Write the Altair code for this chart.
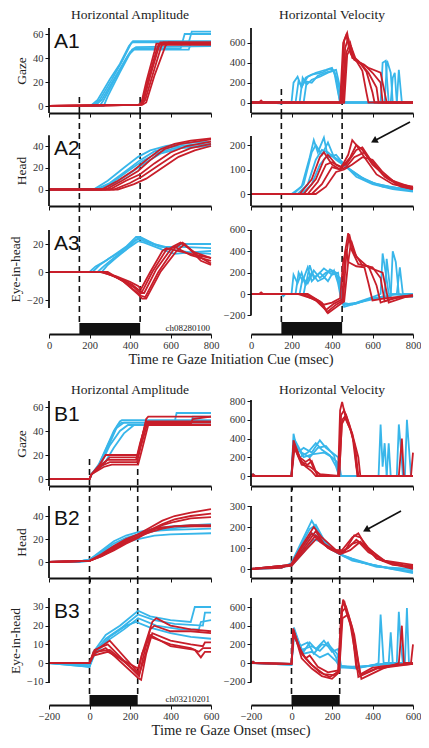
import altair as alt
import pandas as pd

BLUE = "#38B6EA"
RED = "#C81E2A"
SERIF = "Liberation Serif"
SANS = "Liberation Sans"

# ---------------- Section A: time re gaze initiation cue (0..800 ms) ----------------
A_TICKS_X = [0, 200, 400, 600, 800]
A_CUE = [150, 450]

A1_AMP_BLUE = [
    [[0, 0], [205, 0], [240, 5], [300, 22], [350, 35], [395, 50], [410, 53], [690, 53], [705, 62], [800, 62]],
    [[0, 0], [215, 0], [250, 5], [310, 22], [360, 37], [405, 52], [415, 54], [800, 54]],
    [[0, 0], [225, 0], [260, 5], [330, 25], [390, 42], [420, 47], [690, 47], [700, 52], [800, 52]],
    [[0, 0], [250, 0], [270, 5], [340, 27], [400, 45], [425, 48], [650, 48], [670, 60], [800, 60]],
    [[0, 0], [270, 0], [290, 8], [350, 28], [410, 47], [430, 49], [800, 50]],
]
A1_AMP_RED = [
    [[0, 0], [440, 1], [455, 2], [480, 20], [520, 45], [530, 52], [800, 52]],
    [[0, 0], [445, 1], [460, 3], [490, 22], [530, 46], [540, 51], [800, 51]],
    [[0, 0], [450, 1], [465, 3], [500, 25], [540, 48], [550, 53], [800, 53]],
    [[0, 0], [455, 1], [475, 5], [510, 25], [555, 50], [565, 53], [800, 52]],
    [[0, 0], [460, 1], [480, 3], [520, 25], [575, 50], [590, 53], [800, 53]],
]
A2_AMP_BLUE = [
    [[0, 0], [230, 0], [300, 6], [380, 17], [450, 27], [520, 35], [600, 39], [700, 41], [800, 42]],
    [[0, 0], [220, 0], [290, 8], [370, 20], [440, 30], [500, 36], [580, 40], [700, 43], [800, 44]],
    [[0, 0], [240, 0], [310, 6], [390, 17], [460, 26], [540, 34], [620, 38], [800, 41]],
    [[0, 0], [250, 0], [320, 5], [400, 15], [470, 24], [550, 33], [650, 38], [800, 40]],
]
A2_AMP_RED = [
    [[0, 0], [260, 0], [340, 8], [420, 18], [480, 27], [550, 37], [620, 42], [700, 45], [800, 47]],
    [[0, 0], [280, 0], [360, 8], [440, 17], [500, 27], [570, 37], [650, 42], [800, 46]],
    [[0, 0], [300, 0], [380, 8], [450, 14], [520, 24], [600, 34], [680, 40], [800, 44]],
    [[0, 0], [320, 0], [400, 6], [460, 12], [540, 22], [620, 32], [700, 38], [800, 42]],
    [[0, 0], [340, 0], [420, 5], [480, 10], [560, 20], [640, 30], [720, 36], [800, 40]],
]
A3_AMP_BLUE = [
    [[0, 0], [200, 0], [230, 4], [280, 8], [320, 12], [380, 18], [430, 25], [450, 25], [520, 20], [600, 16], [700, 14], [800, 13]],
    [[0, 0], [215, 0], [250, 5], [300, 10], [350, 14], [400, 20], [440, 24], [470, 22], [550, 18], [650, 18], [800, 17]],
    [[0, 0], [240, 0], [270, 4], [320, 10], [380, 16], [430, 23], [455, 24], [520, 20], [600, 17], [660, 20], [800, 20]],
    [[0, 0], [260, 0], [290, 5], [330, 10], [390, 17], [440, 22], [470, 21], [560, 16], [620, 13], [700, 14], [800, 15]],
]
A3_AMP_RED = [
    [[0, 0], [250, 0], [330, -3], [400, -7], [440, -10], [455, -12], [500, 0], [560, 15], [580, 17], [700, 13], [800, 10]],
    [[0, 0], [260, 0], [340, -4], [410, -9], [445, -13], [460, -14], [510, 0], [580, 16], [620, 18], [700, 12], [800, 8]],
    [[0, 0], [270, 0], [350, -5], [420, -11], [450, -15], [470, -15], [530, 2], [610, 18], [650, 21], [720, 14], [800, 10]],
    [[0, 0], [280, 0], [360, -6], [430, -14], [455, -17], [475, -18], [540, 0], [620, 17], [660, 21], [740, 11], [800, 6]],
    [[0, 0], [290, 0], [370, -7], [440, -16], [460, -19], [480, -19], [550, 0], [630, 15], [670, 20], [750, 8], [800, 5]],
]
A1_VEL_BLUE = [
    [[0, 0], [100, 0], [150, -10], [160, 0], [200, 0], [210, 200], [230, 260], [250, 150], [270, 250], [300, 280], [350, 300], [390, 340], [410, 320], [430, 100], [440, 0], [640, 0], [650, 400], [665, 420], [680, 0], [800, 0]],
    [[0, 0], [220, 0], [235, 220], [250, 160], [280, 260], [320, 300], [370, 330], [400, 350], [420, 250], [440, 0], [690, 0], [700, 250], [710, 300], [720, 0], [800, 0]],
    [[0, 0], [240, 0], [255, 250], [275, 180], [300, 230], [340, 260], [380, 300], [410, 320], [430, 200], [450, 0], [660, 0], [672, 420], [690, 300], [700, 0], [800, 0]],
    [[0, 0], [260, 0], [275, 210], [300, 200], [330, 270], [380, 310], [420, 330], [440, 150], [455, 0], [720, 0], [730, 330], [745, 0], [800, 0]],
]
A1_VEL_RED = [
    [[0, 0], [40, 0], [50, 20], [60, 0], [440, 0], [455, 600], [470, 680], [490, 500], [520, 420], [550, 320], [570, 100], [580, 0], [800, 0]],
    [[0, 0], [445, 0], [460, 620], [475, 700], [495, 480], [530, 420], [570, 310], [600, 100], [610, 0], [800, 0]],
    [[0, 0], [450, 0], [465, 550], [480, 650], [500, 450], [540, 400], [580, 300], [620, 150], [630, 0], [800, 0]],
    [[0, 0], [455, 0], [470, 500], [490, 600], [510, 430], [560, 380], [600, 300], [640, 200], [650, 0], [800, 0]],
    [[0, 0], [460, 0], [475, 480], [495, 560], [520, 420], [580, 350], [640, 300], [660, 100], [670, 0], [800, 0]],
]
A2_VEL_BLUE = [
    [[0, 0], [200, 0], [250, 30], [290, 150], [310, 220], [330, 170], [360, 230], [380, 150], [420, 160], [460, 120], [520, 70], [600, 40], [700, 20], [800, 10]],
    [[0, 0], [210, 0], [260, 40], [300, 170], [320, 200], [350, 160], [380, 210], [410, 150], [450, 130], [500, 90], [580, 50], [680, 30], [800, 15]],
    [[0, 0], [230, 0], [280, 40], [320, 140], [350, 180], [380, 170], [420, 140], [470, 110], [540, 70], [620, 40], [720, 25], [800, 20]],
    [[0, 0], [250, 0], [300, 40], [340, 120], [370, 150], [400, 160], [440, 130], [490, 100], [560, 60], [650, 30], [800, 15]],
]
A2_VEL_RED = [
    [[0, 0], [240, 0], [300, 60], [340, 150], [360, 170], [400, 120], [440, 100], [480, 160], [500, 220], [520, 200], [560, 150], [620, 80], [700, 40], [800, 20]],
    [[0, 0], [260, 0], [320, 60], [360, 140], [380, 160], [420, 120], [450, 110], [490, 150], [520, 200], [550, 180], [600, 120], [680, 60], [800, 25]],
    [[0, 0], [280, 0], [330, 50], [370, 120], [400, 130], [440, 110], [470, 120], [520, 180], [550, 190], [590, 140], [650, 80], [730, 40], [800, 30]],
    [[0, 0], [300, 0], [350, 40], [400, 110], [440, 100], [470, 110], [510, 150], [560, 170], [600, 130], [660, 70], [740, 30], [800, 20]],
    [[0, 0], [320, 0], [370, 30], [420, 90], [460, 100], [500, 120], [550, 150], [600, 140], [650, 90], [720, 40], [800, 25]],
]
A3_VEL_BLUE = [
    [[0, 0], [150, 0], [160, -20], [170, 0], [200, 0], [210, 180], [230, 100], [250, 200], [270, 80], [290, 270], [310, 150], [340, 200], [380, 120], [410, 220], [430, 100], [445, -50], [460, -100], [520, -80], [600, -30], [640, 0], [650, 380], [665, 200], [680, 0], [800, -20]],
    [[0, 0], [220, 0], [235, 200], [255, 120], [280, 250], [300, 120], [330, 180], [360, 240], [400, 180], [430, 200], [450, -80], [500, -100], [580, -50], [690, -20], [700, 400], [715, 300], [730, 0], [800, -30]],
    [[0, 0], [240, 0], [255, 150], [280, 100], [310, 220], [340, 150], [370, 200], [400, 210], [440, 150], [455, -100], [520, -90], [600, -40], [660, -20], [670, 330], [690, 0], [800, -10]],
    [[0, 0], [260, 0], [270, 100], [300, 200], [330, 120], [360, 150], [390, 230], [420, 200], [445, 0], [460, -120], [530, -80], [620, -40], [720, 0], [735, 250], [750, 0], [800, 0]],
]
A3_VEL_RED = [
    [[0, 0], [40, 0], [50, 15], [60, 0], [230, 0], [300, -40], [360, -100], [400, -80], [440, -40], [455, 300], [470, 420], [480, 300], [520, 260], [560, 250], [580, 100], [600, -60], [660, -40], [800, -10]],
    [[0, 0], [250, 0], [320, -60], [370, -150], [410, -90], [450, -50], [465, 400], [480, 570], [495, 420], [530, 280], [580, 260], [620, 80], [640, -80], [700, -40], [800, -20]],
    [[0, 0], [270, 0], [340, -70], [375, -170], [420, -100], [455, -60], [470, 350], [485, 560], [505, 400], [550, 270], [600, 250], [640, 150], [660, -70], [730, -30], [800, -10]],
    [[0, 0], [280, 0], [350, -80], [380, -180], [430, -110], [460, -70], [480, 300], [495, 500], [520, 350], [580, 250], [650, 200], [680, -80], [760, -30], [800, -20]],
]

# ---------------- Section B: time re gaze onset (-200..600 ms) ----------------
B_TICKS_X = [-200, 0, 200, 400, 600]
B_CUE = [0, 238]

B1_AMP_BLUE = [
    [[-200, 0], [0, 0], [10, 4], [40, 10], [80, 25], [120, 40], [150, 48], [160, 49], [600, 49]],
    [[-200, 0], [0, 0], [10, 4], [50, 13], [90, 28], [130, 42], [170, 47], [420, 47], [430, 55], [600, 55]],
    [[-200, 0], [0, 0], [10, 4], [60, 14], [100, 28], [150, 40], [190, 45], [600, 45]],
    [[-200, 0], [0, 0], [10, 4], [70, 12], [120, 26], [170, 38], [220, 45], [500, 45], [510, 52], [600, 52]],
    [[-200, 0], [0, 0], [12, 4], [50, 12], [100, 30], [140, 45], [160, 47], [600, 47]],
]
B1_AMP_RED = [
    [[-200, 0], [0, 0], [10, 4], [50, 12], [80, 20], [240, 20], [260, 35], [280, 50], [290, 52], [600, 52]],
    [[-200, 0], [0, 0], [10, 4], [50, 11], [90, 16], [230, 16], [250, 30], [280, 47], [600, 47]],
    [[-200, 0], [0, 0], [10, 4], [60, 11], [100, 14], [235, 14], [255, 28], [285, 46], [500, 46], [510, 50], [600, 52]],
    [[-200, 0], [0, 0], [10, 4], [70, 10], [110, 12], [240, 12], [260, 25], [290, 45], [600, 45]],
    [[-200, 0], [0, 0], [10, 4], [50, 10], [100, 18], [235, 18], [255, 32], [280, 48], [600, 48]],
]
B2_AMP_BLUE = [
    [[-200, 0], [-50, 0.5], [0, 2], [60, 8], [120, 14], [180, 19], [240, 23], [320, 27], [400, 29], [500, 31], [600, 32]],
    [[-200, 0], [-50, 0.5], [0, 2], [60, 9], [120, 16], [180, 21], [240, 24], [320, 27], [400, 28], [600, 29]],
    [[-200, 0], [-50, 0], [0, 1], [60, 6], [120, 12], [180, 17], [240, 20], [320, 23], [400, 24], [600, 25]],
    [[-200, 0], [-50, 0.5], [0, 2], [60, 10], [120, 18], [180, 23], [240, 26], [320, 29], [400, 31], [600, 33]],
]
B2_AMP_RED = [
    [[-200, 0], [0, 1], [60, 6], [120, 13], [180, 19], [240, 24], [300, 30], [360, 36], [420, 40], [500, 43], [600, 46]],
    [[-200, 0], [0, 1], [60, 5], [120, 11], [180, 17], [240, 22], [300, 28], [360, 33], [420, 37], [500, 40], [600, 42]],
    [[-200, 0], [0, 1], [60, 6], [120, 12], [180, 18], [240, 22], [300, 26], [360, 29], [420, 31], [500, 32], [600, 32]],
    [[-200, 0], [0, 1], [60, 5], [120, 10], [180, 16], [240, 21], [300, 27], [360, 32], [420, 35], [500, 38], [600, 39]],
    [[-200, 0], [0, 1], [60, 7], [120, 14], [180, 20], [240, 24], [300, 28], [360, 30], [420, 31], [600, 31]],
]
B3_AMP_BLUE = [
    [[-200, 0], [-100, -0.5], [0, -2], [20, 6], [80, 15], [150, 20], [240, 28], [300, 25], [400, 23], [500, 22], [520, 30], [600, 30]],
    [[-200, 0], [0, -2], [20, 5], [80, 13], [160, 19], [240, 26], [320, 23], [420, 21], [560, 20], [570, 27], [600, 27]],
    [[-200, 0], [0, -1], [20, 4], [90, 12], [170, 18], [240, 24], [330, 20], [450, 18], [540, 18], [550, 22], [600, 23]],
    [[-200, 0], [0, -2], [30, 6], [100, 14], [180, 20], [230, 22], [300, 19], [400, 16], [500, 14], [600, 13]],
]
B3_AMP_RED = [
    [[-200, 0], [0, 0], [20, 6], [100, 12], [240, -5], [260, 5], [310, 22], [330, 24], [400, 20], [500, 18], [600, 17]],
    [[-200, 0], [0, 0], [25, 7], [90, 10], [245, -7], [265, 3], [300, 18], [320, 20], [400, 17], [500, 17], [600, 16]],
    [[-200, 0], [0, 0], [20, 5], [80, 8], [240, -8], [255, -9], [280, 5], [310, 16], [400, 12], [500, 10], [560, 9], [570, 11], [600, 11]],
    [[-200, 0], [0, 0], [30, 6], [100, 7], [245, -6], [270, 2], [300, 14], [400, 10], [500, 8], [540, 6], [560, 8], [600, 8]],
    [[-200, 0], [0, 0], [20, 4], [90, 6], [240, -3], [260, 5], [300, 15], [400, 9], [520, 7], [550, 3], [570, 6], [600, 6]],
]
B1_VEL_BLUE = [
    [[-200, 0], [-190, 20], [-180, 0], [0, 0], [10, 450], [30, 250], [60, 300], [100, 250], [140, 380], [170, 300], [200, 250], [230, 200], [245, 0], [430, 0], [440, 550], [450, 100], [460, 350], [470, 0], [600, 0]],
    [[-200, 0], [0, 0], [10, 380], [40, 200], [80, 250], [120, 350], [150, 280], [190, 220], [220, 100], [235, 0], [520, 0], [530, 550], [540, 300], [550, 0], [600, 0]],
    [[-200, 0], [0, 0], [12, 400], [50, 250], [90, 200], [130, 300], [170, 320], [210, 220], [230, 50], [240, 0], [560, 0], [570, 600], [580, 300], [590, 0], [600, 0]],
    [[-200, 0], [0, 0], [15, 350], [60, 200], [100, 230], [160, 250], [200, 200], [225, 150], [235, 0], [470, 0], [480, 350], [490, 0], [600, 0]],
]
B1_VEL_RED = [
    [[-200, 0], [-190, 20], [-180, 0], [0, 0], [10, 380], [40, 200], [70, 150], [90, 180], [110, 80], [130, 0], [230, 0], [240, 700], [250, 790], [270, 600], [300, 450], [320, 100], [330, 0], [600, 0]],
    [[-200, 0], [0, 0], [12, 350], [50, 150], [80, 120], [100, 160], [120, 50], [150, 0], [232, 0], [245, 650], [260, 700], [285, 550], [310, 350], [325, 0], [600, 0]],
    [[-200, 0], [0, 0], [15, 300], [50, 120], [90, 100], [140, 20], [235, 0], [250, 600], [270, 650], [300, 450], [330, 200], [340, 0], [530, 0], [545, 400], [555, 0], [590, 0], [600, 250]],
    [[-200, 0], [0, 0], [10, 330], [40, 180], [70, 100], [100, 50], [120, 0], [236, 0], [248, 550], [265, 620], [290, 500], [315, 300], [330, 0], [600, 0]],
]
B2_VEL_BLUE = [
    [[-200, 0], [-50, 5], [0, 30], [50, 130], [100, 230], [130, 180], [180, 110], [240, 70], [300, 50], [400, 20], [500, 0], [600, -10]],
    [[-200, 0], [-50, 5], [0, 25], [50, 120], [90, 190], [120, 210], [160, 140], [220, 80], [300, 40], [400, 20], [500, 0], [600, -20]],
    [[-200, 0], [0, 20], [60, 110], [100, 170], [140, 150], [190, 100], [240, 70], [320, 40], [420, 10], [600, 0]],
    [[-200, 0], [0, 15], [60, 80], [110, 140], [150, 130], [200, 90], [260, 60], [350, 30], [450, 10], [600, -15]],
]
B2_VEL_RED = [
    [[-200, 0], [-50, 5], [0, 25], [50, 110], [110, 200], [150, 150], [220, 90], [250, 90], [300, 150], [330, 170], [360, 120], [420, 50], [500, 20], [600, 10]],
    [[-200, 0], [0, 20], [60, 100], [120, 180], [160, 120], [230, 80], [260, 80], [310, 160], [340, 150], [380, 100], [450, 40], [550, 20], [600, 15]],
    [[-200, 0], [0, 20], [60, 90], [120, 160], [170, 110], [240, 80], [280, 100], [320, 140], [360, 110], [420, 50], [520, 20], [600, 0]],
    [[-200, 0], [0, 15], [70, 90], [130, 150], [180, 100], [240, 70], [290, 90], [340, 130], [390, 90], [460, 40], [600, 20]],
    [[-200, 0], [0, 20], [50, 100], [100, 170], [140, 130], [200, 90], [260, 85], [300, 120], [330, 130], [380, 80], [480, 30], [600, 5]],
]
B3_VEL_BLUE = [
    [[-200, 0], [-190, 15], [-180, 0], [0, -20], [8, 350], [30, 200], [60, 120], [90, 220], [120, 150], [160, 240], [200, 120], [230, 150], [245, -30], [300, -50], [400, -30], [430, 0], [440, 520], [455, 0], [600, 0]],
    [[-200, 0], [0, -10], [10, 300], [40, 180], [80, 220], [110, 100], [150, 200], [190, 180], [225, 100], [240, -40], [320, -60], [400, -20], [520, 0], [530, 550], [540, 200], [550, 0], [600, 0]],
    [[-200, 0], [0, -20], [12, 380], [50, 140], [100, 180], [140, 130], [180, 220], [220, 60], [235, -30], [300, -40], [380, -30], [560, 0], [570, 590], [580, 0], [600, 0]],
    [[-200, 0], [0, -10], [15, 330], [60, 100], [100, 120], [140, 60], [180, 100], [220, 20], [240, -50], [320, -50], [420, -20], [480, 0], [490, 330], [500, 0], [600, 0]],
]
B3_VEL_RED = [
    [[-200, 0], [-190, 15], [-180, 0], [0, -10], [8, 370], [40, 150], [70, 50], [90, 80], [130, -40], [180, -100], [230, -80], [245, 500], [255, 680], [270, 550], [300, 350], [320, -50], [340, -120], [400, -50], [600, 0]],
    [[-200, 0], [0, -10], [10, 350], [50, 100], [90, 0], [140, -100], [190, -150], [232, -90], [248, 600], [262, 650], [290, 420], [315, 100], [330, -150], [420, -60], [600, -10]],
    [[-200, 0], [0, -10], [12, 330], [50, 50], [100, -60], [150, -140], [200, -170], [235, -100], [250, 550], [270, 600], [300, 380], [330, 0], [345, -170], [450, -60], [530, 0], [545, 400], [555, 0], [590, 0], [600, 200]],
    [[-200, 0], [0, -10], [10, 300], [60, 80], [100, -20], [160, -120], [210, -130], [236, -80], [252, 480], [280, 520], [310, 300], [340, -130], [440, -40], [600, -10]],
]

W = 162
COLSP = 40
ONE = pd.DataFrame({"k": [0]})


def traces_df(traces, prefix):
    rows = []
    for k, tr in enumerate(traces):
        for i, (t, v) in enumerate(tr):
            rows.append({"t": t, "v": v, "tr": f"{prefix}{k}", "i": i})
    return pd.DataFrame(rows)


def txt(text, x, y, size, font=SERIF, align="center", baseline="middle", color="#222"):
    return alt.Chart(ONE).mark_text(
        text=text, font=font, fontSize=size, align=align, baseline=baseline, color=color
    ).encode(x=alt.value(x), y=alt.value(y))


def panel(p):
    h = p["h"]
    k = p["k"]          # pixels per unit
    z = p["z"]          # pixels from bottom of slot up to the zero line
    ydom = [-z / k, (h - z) / k]
    span = ydom[1] - ydom[0]

    def px(v):
        return (ydom[1] - v) / span * h

    ylo = ydom[0] if p["ylo"] is None else p["ylo"]
    yhi = p["yhi"]
    xs = alt.Scale(domain=p["xdom"], nice=False, zero=False)
    ys = alt.Scale(domain=ydom, nice=False, zero=False)
    xk = dict(values=p["xticks"], title=None, labelFlush=False, labelOverlap=False)
    if not p["xlabels"]:
        xk["labels"] = False
    XAX = alt.Axis(**xk)
    X = alt.X("t:Q", scale=xs, axis=XAX)
    yk = dict(values=p["yticks"], domain=False, labelFlush=False, labelOverlap=False)
    if p.get("ytitle"):
        yk["title"] = p["ytitle"]
        yk["titleY"] = px((ylo + yhi) / 2)
    else:
        yk["title"] = None
    YAX = alt.Axis(**yk)
    Y = alt.Y("v:Q", scale=ys, axis=YAX)

    def yd(v):
        return alt.YDatum(v, scale=ys, axis=YAX)

    layers = []
    bar_top = None if p.get("bar") is None else p["bar"]
    # dashed cue lines
    if p.get("dash_top") is not None:
        dbot = ydom[0] if bar_top is None else bar_top
        dtop = ydom[1] if p["dash_top"] == "top" else p["dash_top"]
        layers.append(
            alt.Chart(pd.DataFrame({"t": p["cue"]})).mark_rule(
                color="#111", strokeWidth=1.6, strokeDash=[6, 4]
            ).encode(x=X, y=yd(dtop), y2=alt.Y2Datum(dbot))
        )
    for trs, col, pre in ((p["blue"], BLUE, "b"), (p["red"], RED, "r")):
        layers.append(
            alt.Chart(traces_df(trs, pre)).mark_line(color=col, strokeWidth=1.8).encode(
                x=X, y=Y, detail="tr:N", order="i:Q"
            )
        )
    # y axis line spanning only the labelled range
    layers.append(
        alt.Chart(ONE).mark_rule(color="#111", strokeWidth=1.8).encode(
            x=alt.value(0), y=yd(yhi), y2=alt.Y2Datum(ylo)
        )
    )
    if bar_top is not None:
        layers.append(
            alt.Chart(pd.DataFrame({"t": [p["cue"][0]], "t2": [p["cue"][1]]})).mark_rect(color="#111").encode(
                x=X, x2="t2:Q", y=yd(bar_top), y2=alt.Y2Datum(ydom[0])
            )
        )
    if p.get("tag"):
        layers.append(txt(p["tag"], 5, px(yhi) + 2.5, 21, font=SANS, align="left", baseline="top", color="#111"))
    if p.get("title"):
        layers.append(txt(p["title"], W / 2, p["title_y"], 13.5))
    if p.get("xtitle"):
        layers.append(txt(p["xtitle"], W + COLSP / 2, h + 26, 14.5))
    if p.get("code"):
        layers.append(txt(p["code"], W - 1, h - 6, 9, align="right"))
    if p.get("arrow"):
        x1, y1, x2, y2 = p["arrow"]
        layers.append(
            alt.Chart(ONE).mark_rule(color="#111", strokeWidth=1.6).encode(
                x=alt.value(x1), y=alt.value(y1), x2=alt.value(x2), y2=alt.value(y2)
            )
        )
        layers.append(
            alt.Chart(ONE).mark_point(shape="triangle-up", angle=242, filled=True, size=60, color="#111", opacity=1).encode(
                x=alt.value(x2), y=alt.value(y2)
            )
        )
    return alt.layer(*layers).properties(width=W, height=h)


A = dict(xdom=[0, 800], xticks=A_TICKS_X, cue=A_CUE)
B = dict(xdom=[-200, 600], xticks=B_TICKS_X, cue=B_CUE)

specs = [
    dict(A, h=104, k=1.2, z=7, ylo=None, yhi=65, yticks=[0, 20, 40, 60], ytitle="Gaze",
         blue=A1_AMP_BLUE, red=A1_AMP_RED, xlabels=False, dash_top=7.5, tag="A1",
         title="Horizontal Amplitude", title_y=6),
    dict(A, h=104, k=0.0992, z=10.5, ylo=None, yhi=751, yticks=[0, 200, 400, 600],
         blue=A1_VEL_BLUE, red=A1_VEL_RED, xlabels=False, dash_top=136,
         title="Horizontal Velocity", title_y=6),
    dict(A, h=93, k=1.0875, z=16.5, ylo=None, yhi=50, yticks=[0, 20, 40], ytitle="Head",
         blue=A2_AMP_BLUE, red=A2_AMP_RED, xlabels=False, dash_top="top", tag="A2"),
    dict(A, h=93, k=0.245, z=12, ylo=None, yhi=237, yticks=[0, 100, 200],
         blue=A2_VEL_BLUE, red=A2_VEL_RED, xlabels=False, dash_top="top", arrow=[W - 3, 9, W - 39, 28]),
    dict(A, h=128, k=1.4, z=62, ylo=-25.7, yhi=30, yticks=[-20, 0, 20], ytitle="Eye-in-head",
         blue=A3_AMP_BLUE, red=A3_AMP_RED, xlabels=True, dash_top="top", bar=-36.4, tag="A3",
         code="ch08280100", xtitle="Time re Gaze Initiation Cue (msec)"),
    dict(A, h=128, k=0.1067, z=40, ylo=-197, yhi=600, yticks=[-200, 0, 200, 400, 600],
         blue=A3_VEL_BLUE, red=A3_VEL_RED, xlabels=True, dash_top="top", bar=-262),
    dict(B, h=152, k=1.2, z=7, ylo=None, yhi=65, yticks=[0, 20, 40, 60], ytitle="Gaze",
         blue=B1_AMP_BLUE, red=B1_AMP_RED, xlabels=False, dash_top=16.7, tag="B1",
         title="Horizontal Amplitude", title_y=56),
    dict(B, h=152, k=0.09375, z=10, ylo=None, yhi=810, yticks=[0, 200, 400, 600, 800],
         blue=B1_VEL_BLUE, red=B1_VEL_RED, xlabels=False, dash_top=None,
         title="Horizontal Velocity", title_y=56),
    dict(B, h=92, k=1.15, z=16, ylo=None, yhi=48.7, yticks=[0, 20, 40], ytitle="Head",
         blue=B2_AMP_BLUE, red=B2_AMP_RED, xlabels=False, dash_top="top", tag="B2"),
    dict(B, h=92, k=0.21, z=9, ylo=None, yhi=300, yticks=[0, 100, 200, 300],
         blue=B2_VEL_BLUE, red=B2_VEL_RED, xlabels=False, dash_top="top", arrow=[W - 12, 25, W - 47, 44]),
    dict(B, h=127, k=1.867, z=42, ylo=-10.7, yhi=34.8, yticks=[-10, 0, 10, 20, 30], ytitle="Eye-in-head",
         blue=B3_AMP_BLUE, red=B3_AMP_RED, xlabels=True, dash_top="top", bar=-17.1, tag="B3",
         code="ch03210201", xtitle="Time re Gaze Onset (msec)"),
    dict(B, h=127, k=0.0933, z=42, ylo=-203, yhi=696, yticks=[-200, 0, 200, 400, 600],
         blue=B3_VEL_BLUE, red=B3_VEL_RED, xlabels=True, dash_top="top", bar=-343),
]

chart = alt.concat(
    *[panel(s) for s in specs], columns=2, spacing={"row": 0, "column": COLSP}, bounds="flush"
).properties(
    padding={"left": 0, "top": 0, "right": 0, "bottom": 0}
).configure_view(
    stroke=None
).configure_axis(
    labelFont=SERIF, labelFontSize=10.5, labelColor="#333",
    titleFont=SERIF, titleFontSize=13.5, titleFontWeight="normal", titleColor="#222",
    tickColor="#111", tickSize=4, domainColor="#111", domainWidth=1.8, grid=False, labelPadding=2,
    labelOverlap=False,
)

chart.save("out.html", embed_options={"renderer": "svg", "actions": False})
